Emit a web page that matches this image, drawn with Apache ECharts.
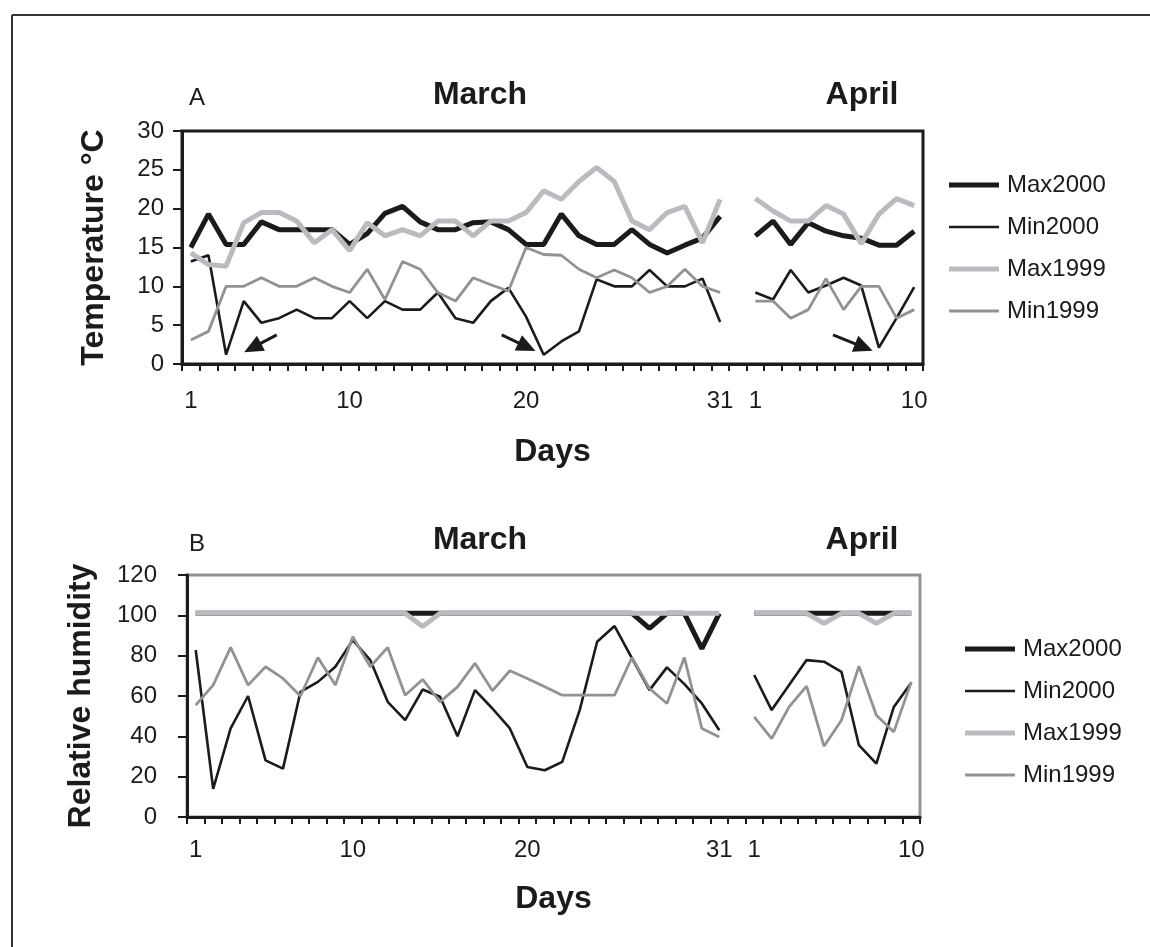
<!DOCTYPE html>
<html>
<head>
<meta charset="utf-8">
<script src="https://cdn.jsdelivr.net/npm/echarts@6/dist/echarts.min.js"></script>
<style>
  html, body { margin: 0; padding: 0; background: #fff; }
  #climateChart { width: 1150px; height: 947px; }
</style>
</head>
<body>
<div id="climateChart"></div>
<script>
// categories: March 1-31, one empty slot, April 1-10
var marchDays = [];
for (var d = 1; d <= 31; d++) marchDays.push('Mar ' + d);
var aprilDays = [];
for (var d2 = 1; d2 <= 10; d2++) aprilDays.push('Apr ' + d2);
var categories = marchDays.concat([''], aprilDays);
var labelledIdx = [0, 9, 19, 30, 32, 41];   // 1, 10, 20, 31 | 1, 10

var seriesNames = ['Max2000', 'Min2000', 'Max1999', 'Min1999'];

// A - temperature (°C)
var tMax2000Mar = [15, 19.3, 15.4, 15.4, 18.3, 17.3, 17.3, 17.3, 17.3, 15.4, 16.8, 19.4, 20.3, 18.3, 17.3, 17.3, 18.2, 18.3, 17.3, 15.4, 15.4, 19.3, 16.5, 15.4, 15.4, 17.3, 15.4, 14.3, 15.3, 16.2, 19];
var tMax2000Apr = [16.5, 18.4, 15.4, 18.2, 17.1, 16.5, 16.2, 15.3, 15.3, 17.1];
var tMin2000Mar = [13.2, 14, 1.2, 8.1, 5.3, 5.9, 7, 5.9, 5.9, 8.1, 5.9, 8.1, 7, 7, 9.2, 5.9, 5.3, 8.1, 9.8, 6.1, 1.2, 2.9, 4.2, 10.9, 10, 10, 12.1, 10, 10, 11, 5.4];
var tMin2000Apr = [9.2, 8.3, 12.1, 9.2, 10.1, 11.1, 10.1, 2.1, 5.9, 9.9];
var tMax1999Mar = [14.3, 12.8, 12.6, 18.2, 19.5, 19.5, 18.4, 15.6, 17.3, 14.6, 18.2, 16.5, 17.3, 16.5, 18.4, 18.4, 16.5, 18.4, 18.4, 19.5, 22.3, 21.2, 23.5, 25.3, 23.5, 18.4, 17.3, 19.5, 20.3, 15.6, 21.2];
var tMax1999Apr = [21.3, 19.7, 18.4, 18.4, 20.4, 19.3, 15.5, 19.3, 21.3, 20.4];
var tMin1999Mar = [3.1, 4.2, 10, 10, 11.1, 10, 10, 11.1, 10, 9.2, 12.2, 8.3, 13.2, 12.2, 9.2, 8.1, 11.1, 10.2, 9.4, 15, 14.1, 14, 12.2, 11.1, 12.1, 11.1, 9.2, 10, 12.2, 10, 9.2];
var tMin1999Apr = [8.1, 8.1, 5.9, 7, 11, 7, 10, 10, 5.9, 7];

// B - relative humidity (%)
var hMax2000Mar = [101, 101, 101, 101, 101, 101, 101, 101, 101, 101, 101, 101, 101, 101, 101, 101, 101, 101, 101, 101, 101, 101, 101, 101, 101, 101, 93.5, 101, 101, 83.5, 101];
var hMax2000Apr = [101, 101, 101, 101, 101, 101, 101, 101, 101, 101];
var hMin2000Mar = [82.8, 14, 43.9, 60, 28.1, 24, 62, 67, 74.5, 87.7, 77.8, 57.1, 48, 63.2, 59.6, 40, 62.9, 53.8, 43.9, 24.8, 23.2, 27.3, 53, 86.9, 94.7, 78.6, 62.9, 74.2, 65.9, 56.3, 43];
var hMin2000Apr = [70.4, 53, 65.4, 77.8, 77, 72, 35.6, 26.5, 54.6, 66.6];
var hMax1999Mar = [101, 101, 101, 101, 101, 101, 101, 101, 101, 101, 101, 101, 101, 94.4, 101, 101, 101, 101, 101, 101, 101, 101, 101, 101, 101, 101, 101, 101, 101, 101, 101];
var hMax1999Apr = [101, 101, 101, 101, 96, 101, 101, 96, 101, 101];
var hMin1999Mar = [55.5, 65.4, 84.1, 65.4, 74.5, 68.7, 60, 79.1, 65.4, 89.4, 74.5, 84.1, 60.4, 68.2, 57.1, 64.5, 76.2, 62.6, 72.5, 68.7, 64.6, 60.4, 60.4, 60.4, 60.4, 79.1, 63.7, 56.3, 79.1, 43.9, 39.7];
var hMin1999Apr = [49.7, 38.9, 54.6, 64.9, 35.1, 48, 74.8, 50.5, 42.2, 67];

// arrows in panel A: [start, end] as [day index, °C]
var arrowsA = [
    [[4.87, 3.75], [3.5, 2.1]],
    [[17.62, 3.75], [19.05, 2.2]],
    [[36.4, 3.75], [38.15, 2.15]]
];

var BLACK = '#1b1b1b', LIGHT = '#b8bcc0', MID = '#8e9398';
var FONT = '"Liberation Sans", Arial, sans-serif';

function withGap(mar, apr) {
    return mar.concat([null], apr);
}

var lineLook = {
    Max2000: { color: BLACK, width: 5 },
    Min2000: { color: BLACK, width: 2.6 },
    Max1999: { color: LIGHT, width: 5 },
    Min1999: { color: MID, width: 2.8 }
};

function makeSeries(name, gridIdx, values) {
    return {
        name: name,
        type: 'line',
        xAxisIndex: gridIdx,
        yAxisIndex: gridIdx,
        data: values,
        symbol: 'none',
        showSymbol: false,
        connectNulls: false,
        lineStyle: { color: lineLook[name].color, width: lineLook[name].width },
        itemStyle: { color: lineLook[name].color },
        emphasis: { disabled: true }
    };
}

function dayAxis(gridIdx, labelMargin, nameGap) {
    return {
        type: 'category',
        gridIndex: gridIdx,
        data: categories,
        boundaryGap: true,
        axisLine: { onZero: false, lineStyle: { color: BLACK, width: 3 } },
        axisTick: { show: true, interval: 0, length: 7, lineStyle: { color: BLACK, width: 2 } },
        axisLabel: {
            interval: function (i) { return labelledIdx.indexOf(i) >= 0; },
            formatter: function (v) { return v.split(' ')[1] || ''; },
            margin: labelMargin,
            fontSize: 24,
            color: BLACK,
            fontFamily: FONT
        },
        splitLine: { show: false },
        name: 'Days',
        nameLocation: 'middle',
        nameGap: nameGap,
        nameTextStyle: { fontSize: 32, fontWeight: 'bold', color: BLACK, fontFamily: FONT }
    };
}

function valueAxis(gridIdx, max, step, name, nameGap, labelMargin) {
    return {
        type: 'value',
        gridIndex: gridIdx,
        min: 0,
        max: max,
        interval: step,
        axisLine: { show: true, onZero: false, lineStyle: { color: BLACK, width: 3 } },
        axisTick: { show: true, length: 9, lineStyle: { color: BLACK, width: 2 } },
        axisLabel: { margin: labelMargin, fontSize: 24, color: BLACK, fontFamily: FONT },
        splitLine: { show: false },
        name: name,
        nameLocation: 'middle',
        nameRotate: 90,
        nameGap: nameGap,
        nameTextStyle: { fontSize: 32, fontWeight: 'bold', color: BLACK, fontFamily: FONT }
    };
}

// legend keys drawn as plain bars, thick for Max, thin for Min
function legendAt(left, top) {
    return {
        data: seriesNames.map(function (n) {
            var h = lineLook[n].width;
            return {
                name: n,
                icon: 'path://M0,0H50V' + h + 'H0Z',
                itemStyle: { color: lineLook[n].color }
            };
        }),
        orient: 'vertical',
        left: left,
        top: top,
        itemWidth: 50,
        itemHeight: 14,
        itemGap: 18,
        selectedMode: false,
        textStyle: { fontSize: 24, color: BLACK, fontFamily: FONT, lineHeight: 24, padding: [0, 0, 0, 3] }
    };
}

function label(text, x, y, size, bold) {
    return {
        type: 'text',
        x: x,
        y: y,
        style: {
            text: text,
            fill: BLACK,
            font: (bold ? 'bold ' : '') + size + 'px ' + FONT,
            align: 'center',
            verticalAlign: 'middle'
        }
    };
}

var chart = echarts.init(document.getElementById('climateChart'));
window.addEventListener('resize', function () { chart.resize(); });

chart.setOption({
    animation: false,
    backgroundColor: '#fff',
    grid: [
        { left: 182, top: 131, width: 741, height: 233, show: true, borderColor: BLACK, borderWidth: 3 },
        { left: 187, top: 575, width: 733, height: 242, show: true, borderColor: MID, borderWidth: 3 }
    ],
    xAxis: [
        dayAxis(0, 25, 72),
        dayAxis(1, 21, 66),
        // hidden helper axis so the arrows can sit between days
        { type: 'value', gridIndex: 0, min: -0.5, max: 41.5, show: false, axisLine: { onZero: false } }
    ],
    yAxis: [
        valueAxis(0, 30, 5, 'Temperature °C', 72, 18),
        valueAxis(1, 120, 20, 'Relative humidity', 90, 30)
    ],
    legend: [legendAt(944, 168), legendAt(960, 632)],
    series: [
        makeSeries('Max2000', 0, withGap(tMax2000Mar, tMax2000Apr)),
        makeSeries('Min2000', 0, withGap(tMin2000Mar, tMin2000Apr)),
        makeSeries('Max1999', 0, withGap(tMax1999Mar, tMax1999Apr)),
        makeSeries('Min1999', 0, withGap(tMin1999Mar, tMin1999Apr)),
        makeSeries('Max2000', 1, withGap(hMax2000Mar, hMax2000Apr)),
        makeSeries('Min2000', 1, withGap(hMin2000Mar, hMin2000Apr)),
        makeSeries('Max1999', 1, withGap(hMax1999Mar, hMax1999Apr)),
        makeSeries('Min1999', 1, withGap(hMin1999Mar, hMin1999Apr)),
        {
            name: 'arrows',
            type: 'line',
            xAxisIndex: 2,
            yAxisIndex: 0,
            data: [],
            markLine: {
                silent: true,
                animation: false,
                symbol: ['none', 'triangle'],
                symbolSize: [17, 19],
                label: { show: false },
                lineStyle: { color: BLACK, width: 3, type: 'solid' },
                data: arrowsA.map(function (a) {
                    return [{ coord: a[0] }, { coord: a[1] }];
                })
            }
        }
    ],
    graphic: [
        { type: 'line', shape: { x1: 12, y1: 15, x2: 1150, y2: 15 }, style: { stroke: '#333', lineWidth: 2 } },
        { type: 'line', shape: { x1: 12, y1: 15, x2: 12, y2: 947 }, style: { stroke: '#333', lineWidth: 2 } },
        label('A', 197, 98, 24, false),
        label('March', 480, 95, 32, true),
        label('April', 862, 95, 32, true),
        label('B', 197, 544, 24, false),
        label('March', 480, 540, 32, true),
        label('April', 862, 540, 32, true)
    ]
});
</script>
</body>
</html>
